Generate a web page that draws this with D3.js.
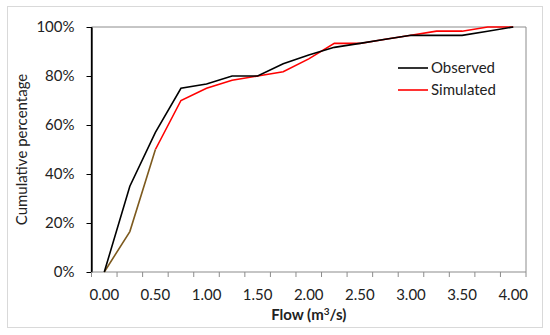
<!DOCTYPE html>
<html>
<head>
<meta charset="utf-8">
<script src="https://cdn.jsdelivr.net/npm/d3@7"></script>
<style>
  body { margin: 0; background: #fff; }
  text { font-family: Lato, "Open Sans", sans-serif; }
</style>
</head>
<body>
<svg id="chart" width="550" height="335"></svg>
<script>
// flow classes (m3/s), every 0.25
let flows = ["0.00","0.25","0.50","0.75","1.00","1.25","1.50","1.75","2.00",
             "2.25","2.50","2.75","3.00","3.25","3.50","3.75","4.00"];
let tickLabels = ["0.00","0.50","1.00","1.50","2.00","2.50","3.00","3.50","4.00"];
let observed  = [0, 35, 57, 75, 76.7, 80, 80, 85, 88.6, 91.7, 93.3, 95, 96.6, 96.6, 96.6, 98.3, 100];
let simulated = [0, 16.5, 50, 70, 75, 78.3, 80, 81.7, 87, 93.3, 93.3, 95, 96.6, 98.3, 98.3, 100, 100];
let yTicks = [0, 20, 40, 60, 80, 100];

let svg = d3.select("#chart");

// outer frame
svg.append("rect")
  .attr("x", 7.5).attr("y", 6.5)
  .attr("width", 535).attr("height", 321)
  .attr("fill", "none")
  .attr("stroke", "#d9d9d9");

let pLeft = 91.5, pRight = 526, pTop = 27, pBottom = 272;

let xScale = d3.scaleBand()
  .domain(flows)
  .range([pLeft, pRight]);

let yScale = d3.scaleLinear()
  .domain([0, 100])
  .range([pBottom, pTop]);

let xc = d => xScale(d) + xScale.bandwidth() / 2;

// plot area border (top/right grey)
svg.append("path")
  .attr("d", `M${pLeft},${pTop}H${pRight}V${pBottom}`)
  .attr("fill", "none")
  .attr("stroke", "#8c8c8c")
  .attr("stroke-width", 1);

// y axis
let yAxis = svg.append("g")
  .attr("transform", `translate(${pLeft},0)`)
  .call(d3.axisLeft(yScale)
          .tickValues(yTicks)
          .tickFormat(d => d + "%")
          .tickSize(5)
          .tickSizeOuter(0));
yAxis.select(".domain").attr("stroke", "#000").attr("stroke-width", 1.3);
yAxis.selectAll(".tick line").attr("stroke", "#000");
yAxis.selectAll(".tick text")
  .attr("x", -17)
  .style("font-size", "15px")
  .attr("fill", "#222");

// x axis: ticks at category boundaries
let xAxis = svg.append("g")
  .attr("transform", `translate(0,${pBottom})`);
xAxis.append("line")
  .attr("x1", pLeft).attr("x2", pRight)
  .attr("stroke", "#8c8c8c").attr("stroke-width", 1.2);
let bounds = flows.map(f => xScale(f)).concat([pRight]);
xAxis.selectAll(".xtick")
  .data(bounds)
  .join("line")
  .attr("class", "xtick")
  .attr("x1", d => d).attr("x2", d => d)
  .attr("y1", 0).attr("y2", 5)
  .attr("stroke", "#8c8c8c");
xAxis.selectAll(".xlab")
  .data(tickLabels)
  .join("text")
  .attr("class", "xlab")
  .attr("x", d => xc(d))
  .attr("y", 28)
  .attr("text-anchor", "middle")
  .style("font-size", "15px")
  .attr("fill", "#222")
  .text(d => d);

// redraw y axis line on top of x axis
svg.append("line")
  .attr("x1", pLeft).attr("x2", pLeft)
  .attr("y1", pTop).attr("y2", pBottom)
  .attr("stroke", "#000").attr("stroke-width", 1.3);

// axis titles
svg.append("text")
  .attr("transform", `translate(27,${(pTop + pBottom) / 2}) rotate(-90)`)
  .attr("text-anchor", "middle")
  .style("font-size", "15px")
  .attr("fill", "#222")
  .text("Cumulative percentage");

let xt = svg.append("text")
  .attr("x", (pLeft + pRight) / 2)
  .attr("y", 320)
  .attr("text-anchor", "middle")
  .style("font-size", "15px")
  .style("font-weight", "bold")
  .attr("fill", "#222");
xt.append("tspan").text("Flow (m");
xt.append("tspan").text("3").attr("dy", -5).style("font-size", "10px");
xt.append("tspan").text("/s)").attr("dy", 5);

// lines
let line = d3.line()
  .x(d => xc(d.f))
  .y(d => yScale(d.v));

let simData = flows.map((f, i) => ({f: f, v: simulated[i]}));
let obsData = flows.map((f, i) => ({f: f, v: observed[i]}));

svg.append("path")
  .datum(simData.slice(2))
  .attr("d", line)
  .attr("fill", "none")
  .attr("stroke", "#ff0000")
  .attr("stroke-width", 1.6);

// first part of simulated curve appears brownish in the original
svg.append("path")
  .datum(simData.slice(0, 3))
  .attr("d", line)
  .attr("fill", "none")
  .attr("stroke", "#7d5a1e")
  .attr("stroke-width", 1.6);

svg.append("path")
  .datum(obsData)
  .attr("d", line)
  .attr("fill", "none")
  .attr("stroke", "#000")
  .attr("stroke-width", 1.6);

// legend
let legend = [{name: "Observed", color: "#000"}, {name: "Simulated", color: "#ff0000"}];
let lg = svg.selectAll(".legend")
  .data(legend)
  .join("g")
  .attr("class", "legend")
  .attr("transform", (d, i) => `translate(398,${68 + i * 22})`);
lg.append("line")
  .attr("x1", 0).attr("x2", 30)
  .attr("stroke", d => d.color)
  .attr("stroke-width", 1.6);
lg.append("text")
  .attr("x", 33)
  .attr("dy", "0.35em")
  .style("font-size", "15px")
  .attr("fill", "#222")
  .text(d => d.name);
</script>
</body>
</html>
